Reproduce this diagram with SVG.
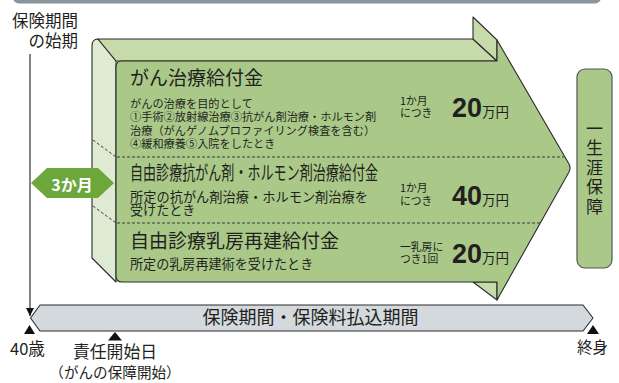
<svg xmlns="http://www.w3.org/2000/svg" width="619" height="383" viewBox="0 0 619 383">
<style>
text{font-family:"Noto Sans CJK JP","Noto Sans",sans-serif;fill:#231f20}
.edge{stroke:#2b2b2b;stroke-width:1.1;stroke-linejoin:round}
.front{fill:#aac989}
.top{fill:#c6daaa}
.side{fill:#deead2}
.dash{stroke:#3a3a3a;stroke-width:1;stroke-dasharray:3,2;fill:none}
.h{font-size:19px}
.d{font-size:11.2px}
.d2{font-size:13.1px}
.s{font-size:10.8px}
.num{font-family:"Liberation Sans",Arial,sans-serif;font-weight:bold;font-size:28px}
.yen{font-size:13.5px}
.lbl{font-size:16.5px}
.tri{fill:#111}
</style>
<defs>
<marker id="ah" viewBox="0 0 8 8" refX="8" refY="4" markerWidth="8" markerHeight="8" markerUnits="userSpaceOnUse" orient="auto">
<path d="M0,0 L8,4 L0,8 Z" fill="#111"/>
</marker>
</defs>

<g id="top-bar">
<rect x="13" y="-12" width="588" height="15.5" rx="6" fill="#8a949c"/>
</g>

<g id="start-label">
<text class="lbl" text-anchor="end"><tspan x="78" y="26.5">保険期間</tspan><tspan x="78" y="46.5">の始期</tspan></text>
</g>

<g id="connectors">
<line x1="30" y1="54" x2="30" y2="316" stroke="#333" stroke-width="1.2" marker-end="url(#ah)"/>
</g>

<g id="benefit-arrow">
<path class="side edge" d="M92,46 Q92,39 98,39 L116,61 L116,282 L92,258 Z"/>
<path class="top edge" d="M98,39 L473,39 L497,61 L116,61 Z"/>
<path class="top edge" d="M473,17 L497,40 L497,61 L473,39 Z"/>
<path class="top edge" d="M473,282 L497,282 L497,300 Z"/>
<path class="front edge" d="M122,61 L497,61 L497,40 L569,164 Q571,168 569,172 L497,300 L497,282 L122,282 Q116,282 116,276 L116,67 Q116,61 122,61 Z"/>
<line class="dash" x1="117" y1="157" x2="564" y2="157"/>
<line class="dash" x1="117" y1="223" x2="540" y2="223"/>
<line class="dash" x1="93" y1="140" x2="116" y2="157"/>
<line class="dash" x1="93" y1="206" x2="116" y2="223"/>
</g>

<g id="section-cancer-treatment">
<text class="h" x="130" y="85">がん治療給付金</text>
<text class="d"><tspan x="130" y="107.5">がんの治療を目的として</tspan><tspan x="130" y="121">①手術②放射線治療③抗がん剤治療・ホルモン剤</tspan><tspan x="130" y="134.5">治療（がんゲノムプロファイリング検査を含む）</tspan><tspan x="130" y="148">④緩和療養⑤入院をしたとき</tspan></text>
<text class="s"><tspan x="400" y="105">1か月</tspan><tspan x="400" y="116.5">につき</tspan></text>
<text class="num" x="452" y="117" textLength="30" lengthAdjust="spacingAndGlyphs">20</text>
<text class="yen" x="482" y="117">万円</text>
</g>

<g id="section-hormone">
<text class="h" x="130" y="180" textLength="248" lengthAdjust="spacingAndGlyphs">自由診療抗がん剤・ホルモン剤治療給付金</text>
<text class="d2"><tspan x="130" y="202" textLength="238" lengthAdjust="spacingAndGlyphs">所定の抗がん剤治療・ホルモン剤治療を</tspan><tspan x="130" y="214.5">受けたとき</tspan></text>
<text class="s"><tspan x="400" y="192">1か月</tspan><tspan x="400" y="204.5">につき</tspan></text>
<text class="num" x="452" y="205" textLength="30" lengthAdjust="spacingAndGlyphs">40</text>
<text class="yen" x="482" y="205">万円</text>
</g>

<g id="section-breast">
<text class="h" x="130" y="248">自由診療乳房再建給付金</text>
<text class="d2" x="130" y="269">所定の乳房再建術を受けたとき</text>
<text class="s"><tspan x="400" y="251">一乳房に</tspan><tspan x="400" y="263">つき1回</tspan></text>
<text class="num" x="452" y="263" textLength="30" lengthAdjust="spacingAndGlyphs">20</text>
<text class="yen" x="482" y="263">万円</text>
</g>

<g id="three-months">
<path d="M31,183 L47,168 L98,168 L114,183 L98,198 L47,198 Z" fill="#6ca73c"/>
<text x="72" y="191" text-anchor="middle" font-size="16" font-weight="bold" style="fill:#fff">3か月</text>
</g>

<g id="lifetime-box">
<rect x="577" y="69" width="35" height="199" rx="8" fill="#aac989" stroke="#555" stroke-width="1.2"/>
<text font-size="17" text-anchor="middle"><tspan x="594.5" y="134.5">一</tspan><tspan x="594.5" y="154">生</tspan><tspan x="594.5" y="173.5">涯</tspan><tspan x="594.5" y="193">保</tspan><tspan x="594.5" y="212.5">障</tspan></text>
</g>

<g id="period-bar">
<path d="M40,305 L583,305 L593,318 L583,331 L40,331 L30.5,318 Z" fill="#d4d9dd" stroke="#2b2b2b" stroke-width="1.1" stroke-linejoin="round"/>
<text x="310.5" y="323.5" text-anchor="middle" font-size="18">保険期間・保険料払込期間</text>
</g>

<g id="age-40">
<path class="tri" d="M29.5,325 L35,334 L24,334 Z"/>
<text class="lbl" x="10" y="355">40歳</text>
</g>

<g id="start-date">
<path class="tri" d="M115,332 L122,340.5 L108,340.5 Z"/>
<text text-anchor="middle"><tspan x="115" y="358" font-size="16.8">責任開始日</tspan><tspan x="115" y="378" font-size="14.6">（がんの保障開始）</tspan></text>
</g>

<g id="end-life">
<path class="tri" d="M593,325 L599,334 L587,334 Z"/>
<text x="592.5" y="353" text-anchor="middle" font-size="15.5">終身</text>
</g>
</svg>
